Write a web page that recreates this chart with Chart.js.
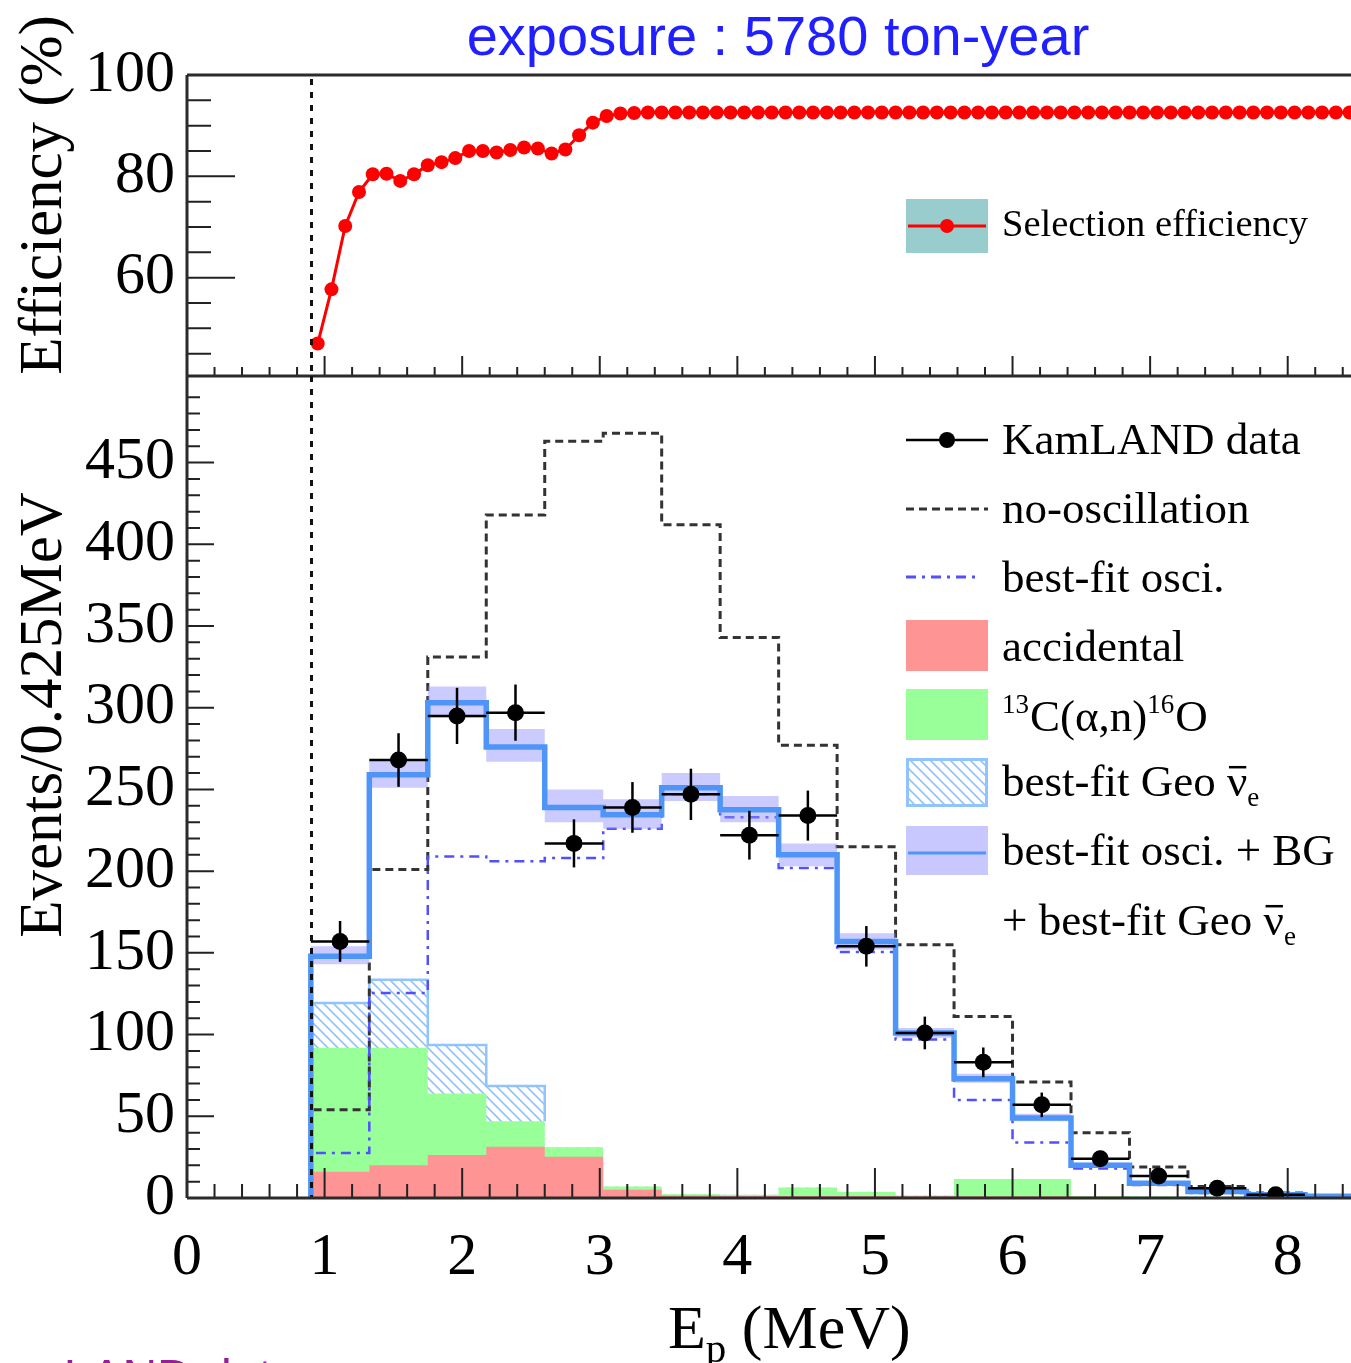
<!DOCTYPE html>
<html>
<head>
<meta charset="utf-8">
<title>KamLAND prompt energy spectrum</title>
<script src="https://cdn.jsdelivr.net/npm/chart.js@4.4.1/dist/chart.umd.min.js"></script>
<style>
html,body{margin:0;padding:0;background:#ffffff;}
body{width:1351px;height:1363px;position:relative;overflow:hidden;}
canvas{position:absolute;left:0;top:0;}
</style>
</head>
<body>
<canvas id="effChart" width="1351" height="1363"></canvas>
<canvas id="specChart" width="1351" height="1363"></canvas>
<script>
// ===================== DATA =====================
const cutEnergy = 0.9;

const effEnergy = [0.95,1.05,1.15,1.25,1.35,1.45,1.55,1.65,1.75,1.85,
  1.95,2.05,2.15,2.25,2.35,2.45,2.55,2.65,2.75,2.85,
  2.95,3.05,3.15,3.25,3.35,3.45,3.55,3.65,3.75,3.85,
  3.95,4.05,4.15,4.25,4.35,4.45,4.55,4.65,4.75,4.85,
  4.95,5.05,5.15,5.25,5.35,5.45,5.55,5.65,5.75,5.85,
  5.95,6.05,6.15,6.25,6.35,6.45,6.55,6.65,6.75,6.85,
  6.95,7.05,7.15,7.25,7.35,7.45,7.55,7.65,7.75,7.85,
  7.95,8.05,8.15,8.25,8.35,8.45];
const effValues = [47.0,57.7,70.2,76.9,80.4,80.5,79.1,80.4,82.2,82.8,
  83.6,85.0,85.0,84.7,85.2,85.7,85.5,84.5,85.3,88.1,
  90.6,91.9,92.4,92.5,92.6,92.6,92.6,92.6,92.6,92.6,
  92.6,92.6,92.6,92.6,92.6,92.6,92.6,92.6,92.6,92.6,
  92.6,92.6,92.6,92.6,92.6,92.6,92.6,92.6,92.6,92.6,
  92.6,92.6,92.6,92.6,92.6,92.6,92.6,92.6,92.6,92.6,
  92.6,92.6,92.6,92.6,92.6,92.6,92.6,92.6,92.6,92.6,
  92.6,92.6,92.6,92.6,92.6,92.6];

const binEdges = [0.9,1.325,1.75,2.175,2.6,3.025,3.45,3.875,4.3,4.725,5.15,5.575,6.0,6.425,6.85,7.275,7.7,8.125,8.55];

const dataEnergy = [1.1125,1.5375,1.9625,2.3875,2.8125,3.2375,3.6625,4.0875,4.5125,4.9375,5.3625,5.7875,6.2125,6.6375,7.0625,7.4875,7.9125];
const dataCounts = [157,268,295,297,217,239,247,222,234,154,101,83,57,24,13.5,6,2];
const dataErrors = [12.5,16.4,17.2,17.2,14.7,15.5,15.7,14.9,15.3,12.4,10.0,9.1,7.5,4.9,3.7,2.4,1.4];

const noOscillation   = [54,201,331,418,463,468,412,343,277,215,155,111,71,40,19,7,3,1];
const bestFitOsc      = [27.5,125.5,209,206,208,226,247,233,202,150.6,97,60,34,18,8,3,1.5,0.5];
const bestFitTotal    = [148,259,303,276,239,234.5,251,237.6,210,157,101,73,49,20,9,4,2,1];
const bestFitBandHigh = [154,268,313,287,250,244,260,246,217,162,104,76,51.5,21.5,10,4.6,2.4,1.2];
const bestFitBandLow  = [143,251,294,267,230,226,243,230,203,152,98,70.5,47,18.5,8,3.4,1.6,0.8];
const accidentalBG    = [16,20,26.3,31.4,25.3,5,1.5,1.2,1.2,1.2,1,1,1,0.8,0.6,0.5,0.4,0.3];
const c13BG           = [76,72,37.7,15.6,5.7,2,0.8,0.8,5.3,2.5,0.5,10.6,10.6,0.4,0.3,0.2,0.2,0.1];
const geoNu           = [27.4,41.5,29.7,21.6,0,0,0,0,0,0,0,0,0,0,0,0,0,0];

const effTickLabels = [60,80,100];
const effMinorTicks = [45,50,55,65,70,75,85,90,95];
const eventTickLabels = [0,50,100,150,200,250,300,350,400,450];
const energyTickLabels = [0,1,2,3,4,5,6,7,8];

// ===================== STYLE / LAYOUT =====================
const W = 1351, H = 1363;
const AXIS_LEFT = 187, TOP_Y = 75, MID_Y = 376, BOT_Y = 1198;
const XMAX = 8.46;
const SERIF = '"Liberation Serif", "Times New Roman", serif';
const SANS = '"Liberation Sans", Arial, sans-serif';
const C = {
  acc: '#ff9494', c13: '#99ff99', geo: '#8fc4ff', band: 'rgba(140,140,255,0.45)', bandSolid: '#c8c8ff',
  fit: '#4f95f7', osc: '#5050ff', noosc: '#333333', frame: '#2b2b2b', tick: '#222222', teal: '#99cccc'
};

const energyMinor = [];
for (let k = 1; k <= 42; k++) if (k % 5) energyMinor.push(k / 5);
const eventMinor = [];
for (let v = 10; v < 500; v += 10) if (v % 50) eventMinor.push(v);
const eventMajorMarks = [50,100,150,200,250,300,350,400,450];

function stepPoints(vals, fromZero) {
  const pts = [];
  if (fromZero) pts.push({x: binEdges[0], y: 0});
  vals.forEach((v, i) => pts.push({x: binEdges[i], y: v}));
  pts.push({x: binEdges[vals.length], y: vals[vals.length - 1]});
  return pts;
}
const cumC13 = accidentalBG.map((v, i) => v + c13BG[i]);
const cumGeo = cumC13.map((v, i) => v + geoNu[i]);
let lastGeo = 0;
geoNu.forEach((v, i) => { if (v > 0) lastGeo = i; });
const geoOutline = [{x: binEdges[0], y: cumC13[0]}];
for (let i = 0; i <= lastGeo; i++) geoOutline.push({x: binEdges[i], y: cumGeo[i]});
geoOutline.push({x: binEdges[lastGeo + 1], y: cumGeo[lastGeo]});
geoOutline.push({x: binEdges[lastGeo + 1], y: cumC13[lastGeo]});

const specCanvas = document.getElementById('specChart');
function hatchPattern(color, step) {
  const c = document.createElement('canvas');
  c.width = step; c.height = step;
  const g = c.getContext('2d');
  g.strokeStyle = color; g.lineWidth = 1.6;
  g.beginPath();
  g.moveTo(-1, -1); g.lineTo(step + 1, step + 1);
  g.moveTo(-1, step - 1); g.lineTo(1, step + 1);
  g.moveTo(step - 1, -1); g.lineTo(step + 1, 1);
  g.stroke();
  return specCanvas.getContext('2d').createPattern(c, 'repeat');
}
const geoHatch = hatchPattern(C.geo, 10);

// ===================== HELPERS =====================
function line(ctx, x1, y1, x2, y2) { ctx.beginPath(); ctx.moveTo(x1, y1); ctx.lineTo(x2, y2); ctx.stroke(); }
function txt(ctx, s, x, y, size, color, family) {
  ctx.font = size + 'px ' + (family || SERIF);
  ctx.fillStyle = color || '#000';
  ctx.textAlign = 'left'; ctx.textBaseline = 'alphabetic';
  ctx.fillText(s, x, y);
  return x + ctx.measureText(s).width;
}
function nuBarE(ctx, x, y, size) {
  const x2 = txt(ctx, 'ν', x, y, size);
  ctx.strokeStyle = '#000'; ctx.lineWidth = 2.5; ctx.setLineDash([]);
  line(ctx, x + 2, y - size * 0.64, x2 - 1, y - size * 0.64);
  return txt(ctx, 'e', x2, y + size * 0.22, size * 0.6);
}
function xTicksUp(ctx, scale, vals, yBase, len, right) {
  ctx.beginPath();
  vals.forEach(v => { const p = scale.getPixelForValue(v); if (p <= right) { ctx.moveTo(p, yBase); ctx.lineTo(p, yBase - len); } });
  ctx.stroke();
}
function yTicksRight(ctx, scale, vals, xBase, len) {
  ctx.beginPath();
  vals.forEach(v => { const p = scale.getPixelForValue(v); ctx.moveTo(xBase, p); ctx.lineTo(xBase + len, p); });
  ctx.stroke();
}

// ===================== UPPER PANEL =====================
const upperDecor = {
  id: 'upperDecor',
  afterDatasetsDraw(chart) {
    const ctx = chart.ctx, xs = chart.scales.x, ys = chart.scales.y, a = chart.chartArea;
    ctx.save();
    // cut line
    ctx.strokeStyle = '#111'; ctx.lineWidth = 3; ctx.setLineDash([6, 7]);
    const cx = Math.round(xs.getPixelForValue(cutEnergy)) + 0.5;
    line(ctx, cx, a.top + 4, cx, a.bottom);
    ctx.setLineDash([]);
    // ticks
    ctx.strokeStyle = C.tick; ctx.lineWidth = 2;
    xTicksUp(ctx, xs, energyTickLabels, a.bottom, 20, a.right);
    xTicksUp(ctx, xs, energyMinor, a.bottom, 9, a.right);
    yTicksRight(ctx, ys, effTickLabels, a.left, 48);
    yTicksRight(ctx, ys, effMinorTicks, a.left, 24);
    // frame
    ctx.strokeStyle = C.frame; ctx.lineWidth = 3;
    line(ctx, a.left, a.top, a.right, a.top);
    line(ctx, a.left, a.top, a.left, a.bottom);
    line(ctx, a.left, a.bottom, a.right, a.bottom);
    // legend
    ctx.fillStyle = C.teal; ctx.fillRect(906, 199, 82, 54);
    ctx.strokeStyle = '#ff0000'; ctx.lineWidth = 3;
    line(ctx, 908, 226, 986, 226);
    ctx.fillStyle = '#ff0000'; ctx.beginPath(); ctx.arc(947, 226, 7, 0, Math.PI * 2); ctx.fill();
    txt(ctx, 'Selection efficiency', 1002, 236, 38.5);
    // title
    ctx.font = '56px ' + SANS; ctx.fillStyle = '#1f1fff'; ctx.textAlign = 'center'; ctx.textBaseline = 'alphabetic';
    ctx.fillText('exposure : 5780 ton-year', 778, 55);
    // y title
    ctx.save(); ctx.translate(61, 195); ctx.rotate(-Math.PI / 2);
    ctx.font = '61px ' + SERIF; ctx.fillStyle = '#000'; ctx.textAlign = 'center';
    ctx.fillText('Efficiency (%)', 0, 0);
    ctx.restore();
    ctx.restore();
  }
};

new Chart(document.getElementById('effChart'), {
  type: 'line',
  data: {
    datasets: [{
      data: effEnergy.map((x, i) => ({x: x, y: effValues[i]})),
      borderColor: '#ff0000', borderWidth: 3, tension: 0,
      pointRadius: 7, pointHoverRadius: 7, pointBackgroundColor: '#ff0000', pointBorderWidth: 0
    }]
  },
  options: {
    responsive: false, animation: false, devicePixelRatio: 1, events: [],
    layout: {autoPadding: false, padding: {top: TOP_Y, left: 0, right: 0, bottom: 0}},
    plugins: {legend: {display: false}, tooltip: {enabled: false}},
    scales: {
      x: {type: 'linear', min: 0, max: XMAX, grid: {display: false, drawTicks: false}, border: {display: false},
          ticks: {display: false}, afterFit(s) { s.height = H - MID_Y; }},
      y: {type: 'linear', min: 40.6, max: 100, grid: {display: false, drawTicks: false}, border: {display: false},
          ticks: {font: {family: SERIF, size: 60}, color: '#000', padding: 12, autoSkip: false},
          afterBuildTicks(s) { s.ticks = effTickLabels.map(v => ({value: v})); },
          afterFit(s) { s.width = AXIS_LEFT; }}
    }
  },
  plugins: [upperDecor]
});

// ===================== LOWER PANEL =====================
const lowerDecor = {
  id: 'lowerDecor',
  beforeDatasetDraw(chart, args) {
    if (args.index !== 0) return;
    const ctx = chart.ctx, xs = chart.scales.x, ys = chart.scales.y;
    ctx.save();
    ctx.strokeStyle = '#000'; ctx.lineWidth = 2.5;
    dataEnergy.forEach((e, i) => {
      const py = ys.getPixelForValue(dataCounts[i]);
      line(ctx, xs.getPixelForValue(binEdges[i]), py, xs.getPixelForValue(binEdges[i + 1]), py);
      const px = xs.getPixelForValue(e);
      line(ctx, px, ys.getPixelForValue(dataCounts[i] + dataErrors[i]), px, ys.getPixelForValue(dataCounts[i] - dataErrors[i]));
    });
    ctx.restore();
  },
  afterDatasetsDraw(chart) {
    const ctx = chart.ctx, xs = chart.scales.x, ys = chart.scales.y, a = chart.chartArea;
    ctx.save();
    // cut line
    ctx.strokeStyle = '#111'; ctx.lineWidth = 3; ctx.setLineDash([6, 7]);
    const cx = Math.round(xs.getPixelForValue(cutEnergy)) + 0.5;
    line(ctx, cx, a.top, cx, a.bottom);
    ctx.setLineDash([]);
    // ticks
    ctx.strokeStyle = C.tick; ctx.lineWidth = 2;
    xTicksUp(ctx, xs, energyTickLabels, a.bottom, 30, a.right);
    xTicksUp(ctx, xs, energyMinor, a.bottom, 14, a.right);
    yTicksRight(ctx, ys, eventMajorMarks, a.left, 27);
    yTicksRight(ctx, ys, eventMinor, a.left, 13);
    // frame
    ctx.strokeStyle = C.frame; ctx.lineWidth = 3;
    line(ctx, a.left, a.top, a.left, a.bottom);
    line(ctx, a.left, a.bottom, a.right, a.bottom);

    // legend
    const S = 45, X0 = 906, X1 = 988, TX = 1002;
    ctx.strokeStyle = '#000'; ctx.lineWidth = 2.5;
    line(ctx, X0, 440, X1, 440);
    ctx.fillStyle = '#000'; ctx.beginPath(); ctx.arc(947, 440, 8, 0, Math.PI * 2); ctx.fill();
    txt(ctx, 'KamLAND data', TX, 454, S);

    ctx.strokeStyle = C.noosc; ctx.lineWidth = 3; ctx.setLineDash([8, 5]);
    line(ctx, X0, 509, X1, 509);
    txt(ctx, 'no-oscillation', TX, 523, S);

    ctx.strokeStyle = C.osc; ctx.lineWidth = 3; ctx.setLineDash([10, 6, 3, 6]);
    line(ctx, X0, 577, 978, 577);
    ctx.setLineDash([]);
    txt(ctx, 'best-fit osci.', TX, 592, S);

    ctx.fillStyle = C.acc; ctx.fillRect(X0, 620, X1 - X0, 51);
    txt(ctx, 'accidental', TX, 661, S);

    ctx.fillStyle = C.c13; ctx.fillRect(X0, 689, X1 - X0, 51);
    let x = txt(ctx, '13', TX, 731 - S * 0.4, S * 0.6);
    x = txt(ctx, 'C(α,n)', x + 1, 731, S);
    x = txt(ctx, '16', x, 731 - S * 0.4, S * 0.6);
    txt(ctx, 'O', x + 1, 731, S);

    ctx.fillStyle = '#ffffff'; ctx.fillRect(X0, 758, X1 - X0, 49);
    ctx.fillStyle = geoHatch; ctx.fillRect(X0, 758, X1 - X0, 49);
    ctx.strokeStyle = C.geo; ctx.lineWidth = 3; ctx.strokeRect(X0 + 1.5, 759.5, X1 - X0 - 3, 46);
    x = txt(ctx, 'best-fit Geo ', TX, 796, S);
    nuBarE(ctx, x, 796, S);

    ctx.fillStyle = C.bandSolid; ctx.fillRect(X0, 826, X1 - X0, 49);
    ctx.strokeStyle = C.fit; ctx.lineWidth = 3;
    line(ctx, X0 + 2, 853, X1 - 2, 853);
    txt(ctx, 'best-fit osci. + BG', TX, 865, S);
    x = txt(ctx, '+ best-fit Geo ', TX, 935, S);
    nuBarE(ctx, x, 935, S);

    // x title
    x = txt(ctx, 'E', 668, 1348, 62);
    x = txt(ctx, 'p', x, 1362, 41);
    txt(ctx, ' (MeV)', x, 1348, 62);

    // y title
    ctx.save(); ctx.translate(61, 715); ctx.rotate(-Math.PI / 2);
    ctx.font = '61px ' + SERIF; ctx.fillStyle = '#000'; ctx.textAlign = 'center'; ctx.textBaseline = 'alphabetic';
    ctx.fillText('Events/0.425MeV', 0, 0);
    ctx.restore();

    // partially visible caption at bottom edge
    txt(ctx, 'KamLAND data', -35, 1393, 48, '#942193', SANS);
    ctx.restore();
  }
};

const stepBase = {type: 'line', stepped: 'before', pointRadius: 0, pointHoverRadius: 0, tension: 0, fill: false};

new Chart(specCanvas, {
  type: 'line',
  data: {
    datasets: [
      { // 0 data points
        type: 'line', data: dataEnergy.map((x, i) => ({x: x, y: dataCounts[i]})), showLine: false,
        pointRadius: 8.5, pointHoverRadius: 8.5, pointBackgroundColor: '#000', pointBorderWidth: 0, order: 1
      },
      { // 1 best-fit osci + BG + geo
        ...stepBase, data: stepPoints(bestFitTotal, true), borderColor: C.fit, borderWidth: 5.5, order: 2
      },
      { // 2 band high
        ...stepBase, data: stepPoints(bestFitBandHigh, false), borderColor: 'rgba(0,0,0,0)', borderWidth: 0,
        fill: 3, backgroundColor: C.band, order: 3
      },
      { // 3 band low
        ...stepBase, data: stepPoints(bestFitBandLow, false), borderColor: 'rgba(0,0,0,0)', borderWidth: 0, order: 4
      },
      { // 4 best-fit osci
        ...stepBase, data: stepPoints(bestFitOsc, true), borderColor: C.osc, borderWidth: 2.5, borderDash: [10, 6, 3, 6], order: 5
      },
      { // 5 no oscillation
        ...stepBase, data: stepPoints(noOscillation, true), borderColor: C.noosc, borderWidth: 3, borderDash: [8, 5], order: 6
      },
      { // 6 geo outline
        ...stepBase, data: geoOutline, borderColor: C.geo, borderWidth: 2.5, order: 7
      },
      { // 7 accidental
        ...stepBase, data: stepPoints(accidentalBG, true), borderColor: 'rgba(0,0,0,0)', borderWidth: 0,
        fill: 'origin', backgroundColor: C.acc, order: 8
      },
      { // 8 13C(a,n) stacked on accidental
        ...stepBase, data: stepPoints(cumC13, true), borderColor: 'rgba(0,0,0,0)', borderWidth: 0,
        fill: 'origin', backgroundColor: C.c13, order: 9
      },
      { // 9 geo stacked on top
        ...stepBase, data: stepPoints(cumGeo, true), borderColor: 'rgba(0,0,0,0)', borderWidth: 0,
        fill: 'origin', backgroundColor: geoHatch, order: 10
      }
    ]
  },
  options: {
    responsive: false, animation: false, devicePixelRatio: 1, events: [],
    layout: {autoPadding: false, padding: {top: MID_Y, left: 0, right: 0, bottom: 0}},
    plugins: {legend: {display: false}, tooltip: {enabled: false}},
    scales: {
      x: {type: 'linear', min: 0, max: XMAX, grid: {display: false, drawTicks: false}, border: {display: false},
          ticks: {font: {family: SERIF, size: 60}, color: '#000', padding: 24, autoSkip: false, maxRotation: 0},
          afterBuildTicks(s) { s.ticks = energyTickLabels.map(v => ({value: v})); },
          afterFit(s) { s.height = H - BOT_Y; }},
      y: {type: 'linear', min: 0, max: 503, grid: {display: false, drawTicks: false}, border: {display: false},
          ticks: {font: {family: SERIF, size: 60}, color: '#000', padding: 12, autoSkip: false},
          afterBuildTicks(s) { s.ticks = eventTickLabels.map(v => ({value: v})); },
          afterFit(s) { s.width = AXIS_LEFT; }}
    }
  },
  plugins: [lowerDecor]
});
</script>
</body>
</html>
